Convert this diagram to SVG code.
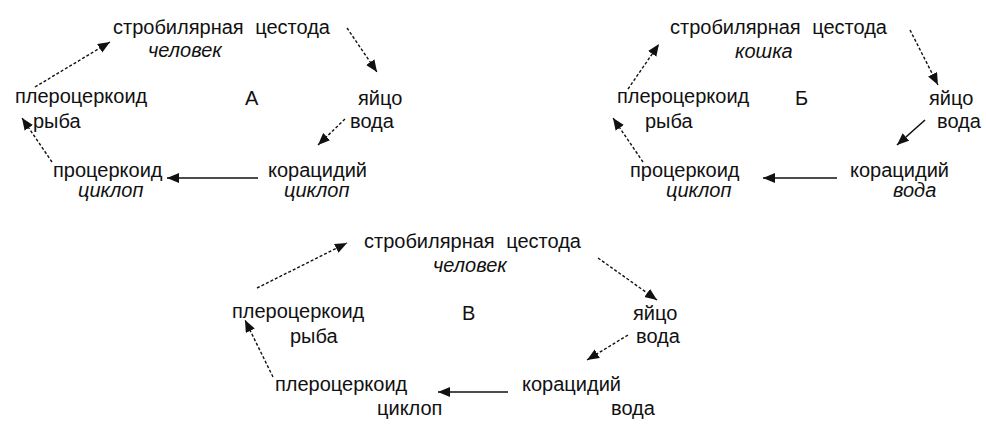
<svg xmlns="http://www.w3.org/2000/svg" width="986" height="429" viewBox="0 0 986 429">
<style>
text{font-family:"Liberation Sans",Arial,sans-serif;font-size:20px;fill:#111}
.i{font-style:italic}
.d{stroke:#111;stroke-width:1.4;fill:none;stroke-dasharray:3 2;marker-end:url(#ah)}
.s{stroke:#111;stroke-width:1.6;fill:none;marker-end:url(#ah)}
</style>
<defs>
<marker id="ah" markerUnits="userSpaceOnUse" markerWidth="14" markerHeight="12" refX="12" refY="5" orient="auto">
<path d="M0,0 L12,5 L0,10 Z" fill="#111"/>
</marker>
</defs>
<rect width="986" height="429" fill="#fff"/>
<!-- Diagram A -->
<g id="a-strob"><text x="113" y="34" word-spacing="6">стробилярная цестода</text><text class="i" x="148" y="57">человек</text></g>
<g id="a-pler"><text x="15" y="103">плероцеркоид</text><text x="33" y="128">рыба</text></g>
<g id="a-label"><text x="245" y="105">А</text></g>
<g id="a-egg"><text x="358" y="105">яйцо</text><text x="350" y="128">вода</text></g>
<g id="a-proc"><text x="53" y="177">процеркоид</text><text class="i" x="78" y="197">циклоп</text></g>
<g id="a-cor"><text x="268" y="177">корацидий</text><text class="i" x="284" y="197">циклоп</text></g>
<!-- Diagram Б -->
<g id="b-strob"><text x="670" y="34" word-spacing="6">стробилярная цестода</text><text class="i" x="735" y="58">кошка</text></g>
<g id="b-pler"><text x="617" y="103">плероцеркоид</text><text x="645" y="128">рыба</text></g>
<g id="b-label"><text x="795" y="105">Б</text></g>
<g id="b-egg"><text x="929" y="105">яйцо</text><text x="937" y="128">вода</text></g>
<g id="b-proc"><text x="630" y="177">процеркоид</text><text class="i" x="666" y="197">циклоп</text></g>
<g id="b-cor"><text x="850" y="177">корацидий</text><text class="i" x="893" y="197">вода</text></g>
<!-- Diagram В -->
<g id="c-strob"><text x="364" y="248" word-spacing="6">стробилярная цестода</text><text class="i" x="433" y="272">человек</text></g>
<g id="c-pler"><text x="232" y="318">плероцеркоид</text><text x="290" y="343">рыба</text></g>
<g id="c-label"><text x="462" y="320">В</text></g>
<g id="c-egg"><text x="633" y="320">яйцо</text><text x="636" y="343">вода</text></g>
<g id="c-pler2"><text x="275" y="391">плероцеркоид</text><text x="377" y="415">циклоп</text></g>
<g id="c-cor"><text x="522" y="391">корацидий</text><text x="611" y="415">вода</text></g>
<g id="connectors">
<line class="d" x1="347" y1="28" x2="377" y2="72"/>
<line class="d" x1="345" y1="119" x2="318" y2="145"/>
<line class="s" x1="258" y1="178" x2="167" y2="178"/>
<line class="d" x1="52" y1="162" x2="22" y2="118"/>
<line class="d" x1="35" y1="87" x2="110" y2="42"/>
<line class="d" x1="910" y1="30" x2="938" y2="85"/>
<line class="s" x1="925" y1="120" x2="897" y2="145"/>
<line class="s" x1="837" y1="178" x2="763" y2="178"/>
<line class="d" x1="643" y1="162" x2="613" y2="118"/>
<line class="d" x1="628" y1="89" x2="659" y2="44"/>
<line class="d" x1="257" y1="288" x2="347" y2="243"/>
<line class="d" x1="598" y1="258" x2="657" y2="300"/>
<line class="d" x1="628" y1="335" x2="587" y2="360"/>
<line class="s" x1="508" y1="392" x2="438" y2="392"/>
<line class="d" x1="273" y1="377" x2="245" y2="320"/>
</g>
</svg>
